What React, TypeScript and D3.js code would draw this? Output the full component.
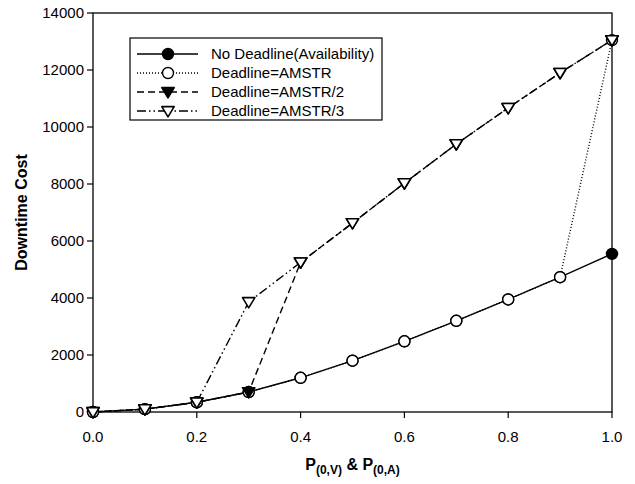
import * as d3 from 'd3';

const xValues = [0, 0.1, 0.2, 0.3, 0.4, 0.5, 0.6, 0.7, 0.8, 0.9, 1.0];
const noDeadline = [0, 100, 340, 700, 1200, 1800, 2480, 3200, 3950, 4730, 5550];
const deadlineAmstr = [0, 100, 340, 700, 1200, 1800, 2480, 3200, 3950, 4730, 13050];
const deadlineAmstr2 = [0, 100, 340, 700, 5250, 6630, 8030, 9400, 10670, 11900, 13050];
const deadlineAmstr3 = [0, 100, 340, 3860, 5250, 6630, 8030, 9400, 10670, 11900, 13050];

const xTicks = [0, 0.2, 0.4, 0.6, 0.8, 1.0];
const yTicks = [0, 2000, 4000, 6000, 8000, 10000, 12000, 14000];

const series = [
  { name: 'No Deadline(Availability)', values: noDeadline, dash: '', marker: 'circle', filled: true },
  { name: 'Deadline=AMSTR', values: deadlineAmstr, dash: '1,2', marker: 'circle', filled: false },
  { name: 'Deadline=AMSTR/2', values: deadlineAmstr2, dash: '7,4', marker: 'triangle', filled: true },
  { name: 'Deadline=AMSTR/3', values: deadlineAmstr3, dash: '9,3,1.5,3,1.5,3', marker: 'triangle', filled: false },
];

const W = 635;
const H = 484;
const left = 93, right = 612, top = 13, bottom = 412;
const font = '"Liberation Sans", Arial, sans-serif';

function Marker({ x, y, kind, filled }: { x: number; y: number; kind: string; filled: boolean }) {
  const fill = filled ? '#000' : '#fff';
  if (kind === 'circle') {
    return <circle cx={x} cy={y} r={5.5} fill={fill} stroke="#000" strokeWidth={1.4} />;
  }
  const s = 6.2;
  const pts = `${x - s},${y - s * 0.7} ${x + s},${y - s * 0.7} ${x},${y + s * 0.95}`;
  return <polygon points={pts} fill={fill} stroke="#000" strokeWidth={1.6} strokeLinejoin="round" />;
}

export default function App() {
  const x = d3.scaleLinear().domain([0, 1]).range([left, right]);
  const y = d3.scaleLinear().domain([0, 14000]).range([bottom, top]);

  const line = d3.line<number>()
    .x((_, i) => x(xValues[i]))
    .y(d => y(d));

  // legend layout
  const lg = { x: 130, y: 38, w: 252, h: 82 };
  const rowY = (i: number) => 54 + i * 19;

  return (
    <svg width={W} height={H} style={{ position: 'absolute', left: 0, top: 0, background: '#fff' }} fontFamily={font}>
      <rect x={0} y={0} width={W} height={H} fill="#fff" />

      {/* frame */}
      <rect x={left} y={top} width={right - left} height={bottom - top} fill="none" stroke="#000" strokeWidth={1.3} />

      {/* y axis ticks */}
      {yTicks.map(t => (
        <g key={'y' + t}>
          <line x1={left - 6} x2={left} y1={y(t)} y2={y(t)} stroke="#000" strokeWidth={1.2} />
          <text x={left - 9} y={y(t)} dy="0.35em" textAnchor="end" fontSize={15} fill="#000">{t}</text>
        </g>
      ))}

      {/* x axis ticks */}
      {xTicks.map(t => (
        <g key={'x' + t}>
          <line x1={x(t)} x2={x(t)} y1={bottom} y2={bottom + 6} stroke="#000" strokeWidth={1.2} />
          <text x={x(t)} y={bottom + 30} textAnchor="middle" fontSize={15} fill="#000">{d3.format('.1f')(t)}</text>
        </g>
      ))}

      {/* lines */}
      {series.map(s => (
        <path key={s.name} d={line(s.values) || ''} fill="none" stroke="#000" strokeWidth={1.4} strokeDasharray={s.dash || undefined} />
      ))}

      {/* markers */}
      {series.map(s => (
        <g key={s.name + 'm'}>
          {s.values.map((v, i) => (
            <Marker key={i} x={x(xValues[i])} y={y(v)} kind={s.marker} filled={s.filled} />
          ))}
        </g>
      ))}

      {/* legend */}
      <rect x={lg.x} y={lg.y} width={lg.w} height={lg.h} fill="#fff" stroke="#000" strokeWidth={1.2} />
      {series.map((s, i) => (
        <g key={s.name + 'l'}>
          <line x1={137} x2={198} y1={rowY(i)} y2={rowY(i)} stroke="#000" strokeWidth={1.4} strokeDasharray={s.dash || undefined} />
          <Marker x={168} y={rowY(i)} kind={s.marker} filled={s.filled} />
          <text x={211} y={rowY(i)} dy="0.35em" fontSize={15} fill="#000">{s.name}</text>
        </g>
      ))}

      {/* axis titles */}
      <text transform={`translate(27,${(top + bottom) / 2}) rotate(-90)`} textAnchor="middle" fontSize={16} fontWeight="bold" fill="#000">Downtime Cost</text>
      <text x={(left + right) / 2} y={470} textAnchor="middle" fontSize={16} fontWeight="bold" fill="#000">
        P<tspan fontSize={12} dy={4}>(0,V)</tspan><tspan dy={-4}> &amp; P</tspan><tspan fontSize={12} dy={4}>(0,A)</tspan>
      </text>
    </svg>
  );
}
